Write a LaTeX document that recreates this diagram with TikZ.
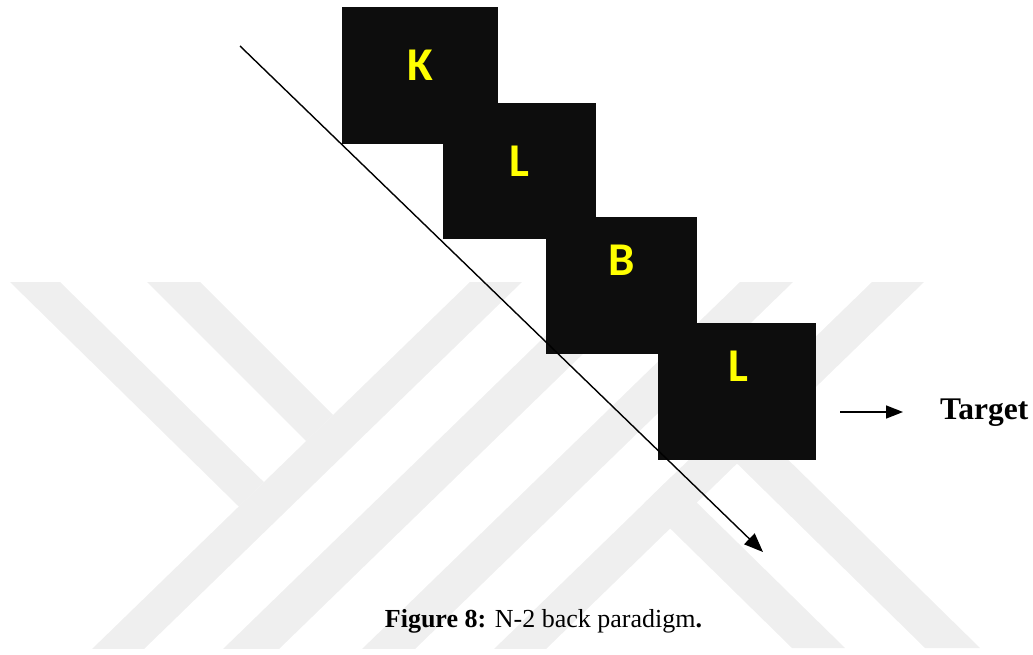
\documentclass[tikz,border=0pt]{standalone}
\usepackage{fontspec}
\setmainfont{Liberation Serif}
\newfontfamily\cardfont{Carlito}
\usetikzlibrary{arrows.meta}
\definecolor{wmgray}{RGB}{239,239,239}
\definecolor{cardblack}{RGB}{13,13,13}
\definecolor{letteryellow}{RGB}{255,255,0}
\begin{document}
\begin{tikzpicture}[x=1pt,y=-1pt,
  band/.style={fill=wmgray,draw=none},
  card/.style={fill=cardblack,draw=none,inner sep=0pt},
  letter/.style={font=\cardfont\bfseries\fontsize{47}{47}\selectfont,text=letteryellow,inner sep=0pt},
  flow/.style={line width=1.4pt,-{Triangle[length=19pt,width=15pt]}},
  pointer/.style={line width=1.6pt,-{Triangle[length=17pt,width=13pt]}},
  label/.style={inner sep=0pt,anchor=base}]
\useasboundingbox (0,0) rectangle (1033,655);

% background emblem: light diagonal bands
\begin{scope}
  \clip (0,282) rectangle (1033,648);
  % short arms, ending at the long left stroke
  \begin{scope}
    \clip (0,0) -- (760.5,0) -- (39.5,700) -- (0,700) -- cycle;
    \fill[band] (10,282) -- (60,282) -- (435,650) -- (385,650) -- cycle;
    \fill[band] (147,282) -- (200,282) -- (568,650) -- (515,650) -- cycle;
  \end{scope}
  % long strokes
  \fill[band] (470,282) -- (522,282) -- (143,650) -- (91,650) -- cycle;
  \fill[band] (601,282) -- (657,282) -- (278,650) -- (222,650) -- cycle;
  \fill[band] (740,282) -- (793,282) -- (414,650) -- (361,650) -- cycle;
  \fill[band] (872,282) -- (924,282) -- (545,650) -- (493,650) -- cycle;
  % lower arms, starting at the right stroke
  \begin{scope}
    \clip (1162.5,0) -- (1200,0) -- (1200,700) -- (441.5,700) -- cycle;
    \fill[band] (419,282) -- (472,282) -- (845,648) -- (792,648) -- cycle;
    \fill[band] (552,282) -- (607,282) -- (980,648) -- (925,648) -- cycle;
  \end{scope}
\end{scope}

% stimulus cards
\node[card,minimum width=156.6pt,minimum height=136.7pt] (cardK) at (420,75.65) {};
\node[letter] (letK) at (420.5,65) {K};
\node[card,minimum width=153pt,minimum height=136.6pt] (cardL) at (519.2,171) {};
\node[letter] (letL) at (519.5,161) {L};
\node[card,minimum width=151pt,minimum height=137.3pt] (cardB) at (621.2,285.35) {};
\node[letter] (letB) at (621.3,260) {B};
\node[card,minimum width=157.4pt,minimum height=136.7pt] (cardT) at (737,391.65) {};
\node[letter] (letT) at (738,366.7) {L};

% time arrow
\coordinate (flowstart) at (240,46);
\coordinate (flowend) at (763,552);
\draw[flow] (flowstart) -- (flowend);

% target pointer
\node[label,anchor=base west,font=\bfseries\fontsize{31.5}{31.5}\selectfont] (target) at (940,419.5) {Target};
\coordinate (ptrstart) at (840,412);
\coordinate (ptrend) at (903,412);
\draw[pointer] (ptrstart) -- (ptrend);

% caption
\node[label,font=\fontsize{26}{26}\selectfont] (caption) at (543.5,627) {\textbf{Figure 8:} N-2 back paradigm\textbf{.}};
\end{tikzpicture}
\end{document}
